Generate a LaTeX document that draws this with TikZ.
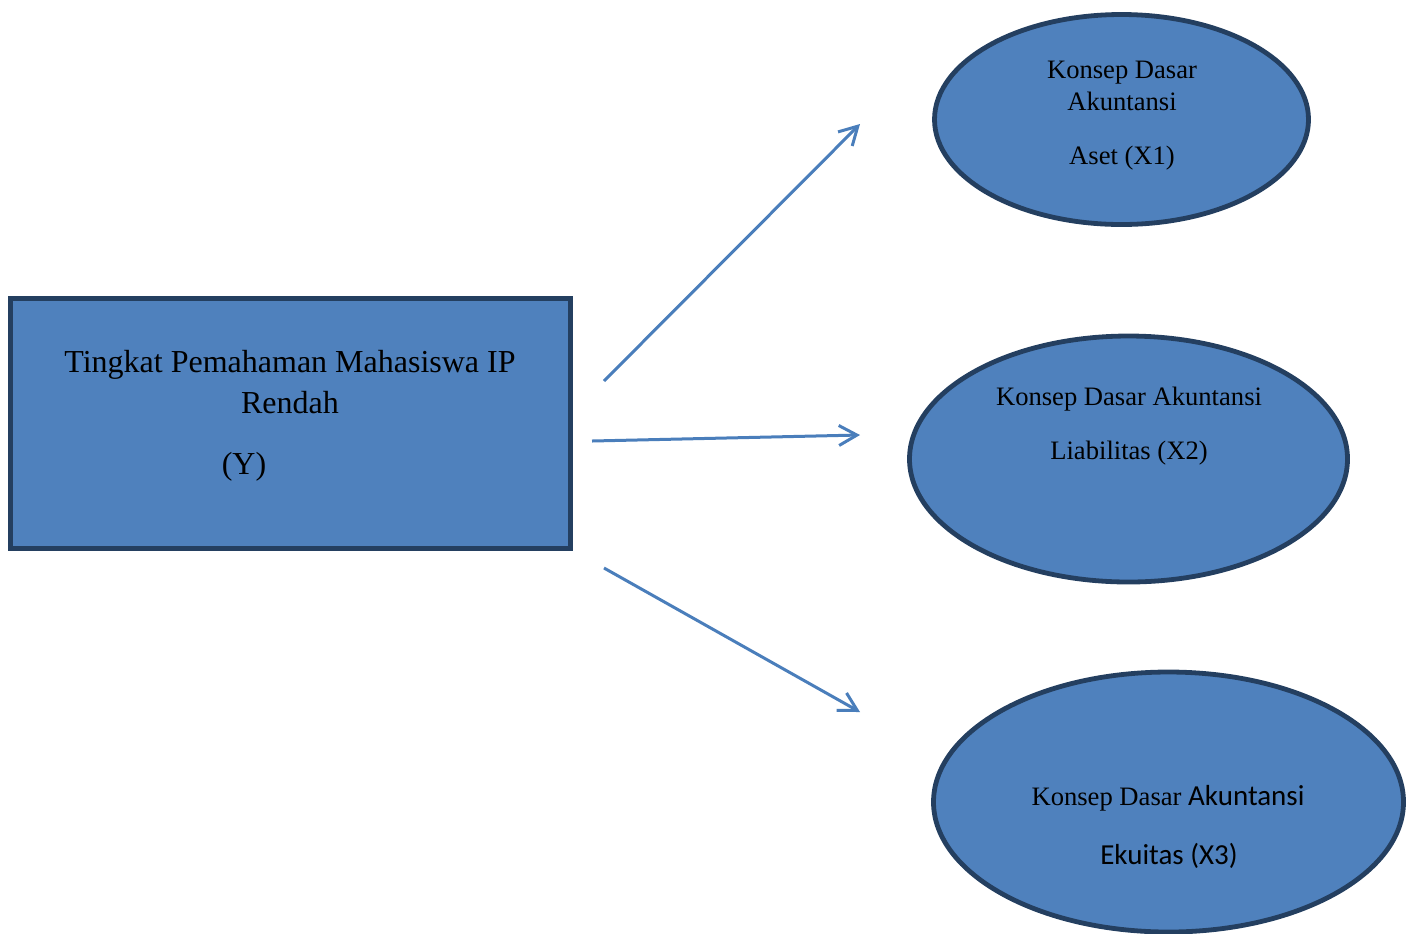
\documentclass[tikz,border=0pt]{standalone}
\usepackage{fontspec}
\setmainfont{Liberation Serif}
\newfontfamily\carlito{Carlito}
\usetikzlibrary{shapes.geometric,arrows.meta}
\definecolor{boxfill}{HTML}{4F81BD}
\definecolor{boxline}{HTML}{243F60}
\definecolor{arrowcol}{HTML}{4A7EBB}
\tikzset{
  varbox/.style={draw=boxline,fill=boxfill,line width=2.6pt,rectangle,inner sep=0pt},
  varell/.style={draw=boxline,fill=boxfill,line width=2.4pt,ellipse,inner sep=0pt},
  link/.style={draw=arrowcol,line width=1.5pt,-{Straight Barb[length=9pt,width=10pt,line width=1.5pt]}},
  lbl/.style={anchor=base,inner sep=0pt,text=black},
}
\begin{document}
\begin{tikzpicture}[x=0.5pt,y=-0.5pt]
\useasboundingbox (0,0) rectangle (1416,933);
% shapes
\node[varbox,minimum width=280pt,minimum height=125pt] (Y) at (290.5,423.5) {};
\node[varell,minimum width=187pt,minimum height=105pt] (X1) at (1121.5,119.5) {};
\node[varell,minimum width=219pt,minimum height=123pt] (X2) at (1128.5,459) {};
\node[varell,minimum width=235pt,minimum height=130pt] (X3) at (1168.5,802) {};
% texts
\node[lbl,font=\fontsize{16pt}{19pt}\selectfont] (y1) at (290,372) {Tingkat Pemahaman Mahasiswa IP};
\node[lbl,font=\fontsize{16pt}{19pt}\selectfont] (y2) at (290,413) {Rendah};
\node[lbl,font=\fontsize{16pt}{19pt}\selectfont] (y3) at (244,474) {(Y)};
\node[lbl,font=\fontsize{13.3pt}{16pt}\selectfont] (a1) at (1122,78) {Konsep Dasar};
\node[lbl,font=\fontsize{13.3pt}{16pt}\selectfont] (a2) at (1122,110) {Akuntansi};
\node[lbl,font=\fontsize{13.3pt}{16pt}\selectfont] (a3) at (1122,164) {Aset (X1)};
\node[lbl,font=\fontsize{13.3pt}{16pt}\selectfont] (b1) at (1129,405) {Konsep Dasar Akuntansi};
\node[lbl,font=\fontsize{13.3pt}{16pt}\selectfont] (b2) at (1129,459) {Liabilitas (X2)};
\node[lbl,font=\fontsize{13.3pt}{16pt}\selectfont] (c1) at (1168,805) {Konsep Dasar {\carlito\fontsize{14.5pt}{17pt}\selectfont Akuntansi}};
\node[lbl,font=\carlito\fontsize{14.5pt}{17pt}\selectfont] (c2) at (1169,864) {Ekuitas (X3)};
% connectors
\coordinate (s1) at (604,381);
\coordinate (e1) at (860,124);
\coordinate (s2) at (592,441);
\coordinate (e2) at (860,435);
\coordinate (s3) at (604,568);
\coordinate (e3) at (860,712);
\draw[link] (s1) -- (e1);
\draw[link] (s2) -- (e2);
\draw[link] (s3) -- (e3);
\end{tikzpicture}
\end{document}
